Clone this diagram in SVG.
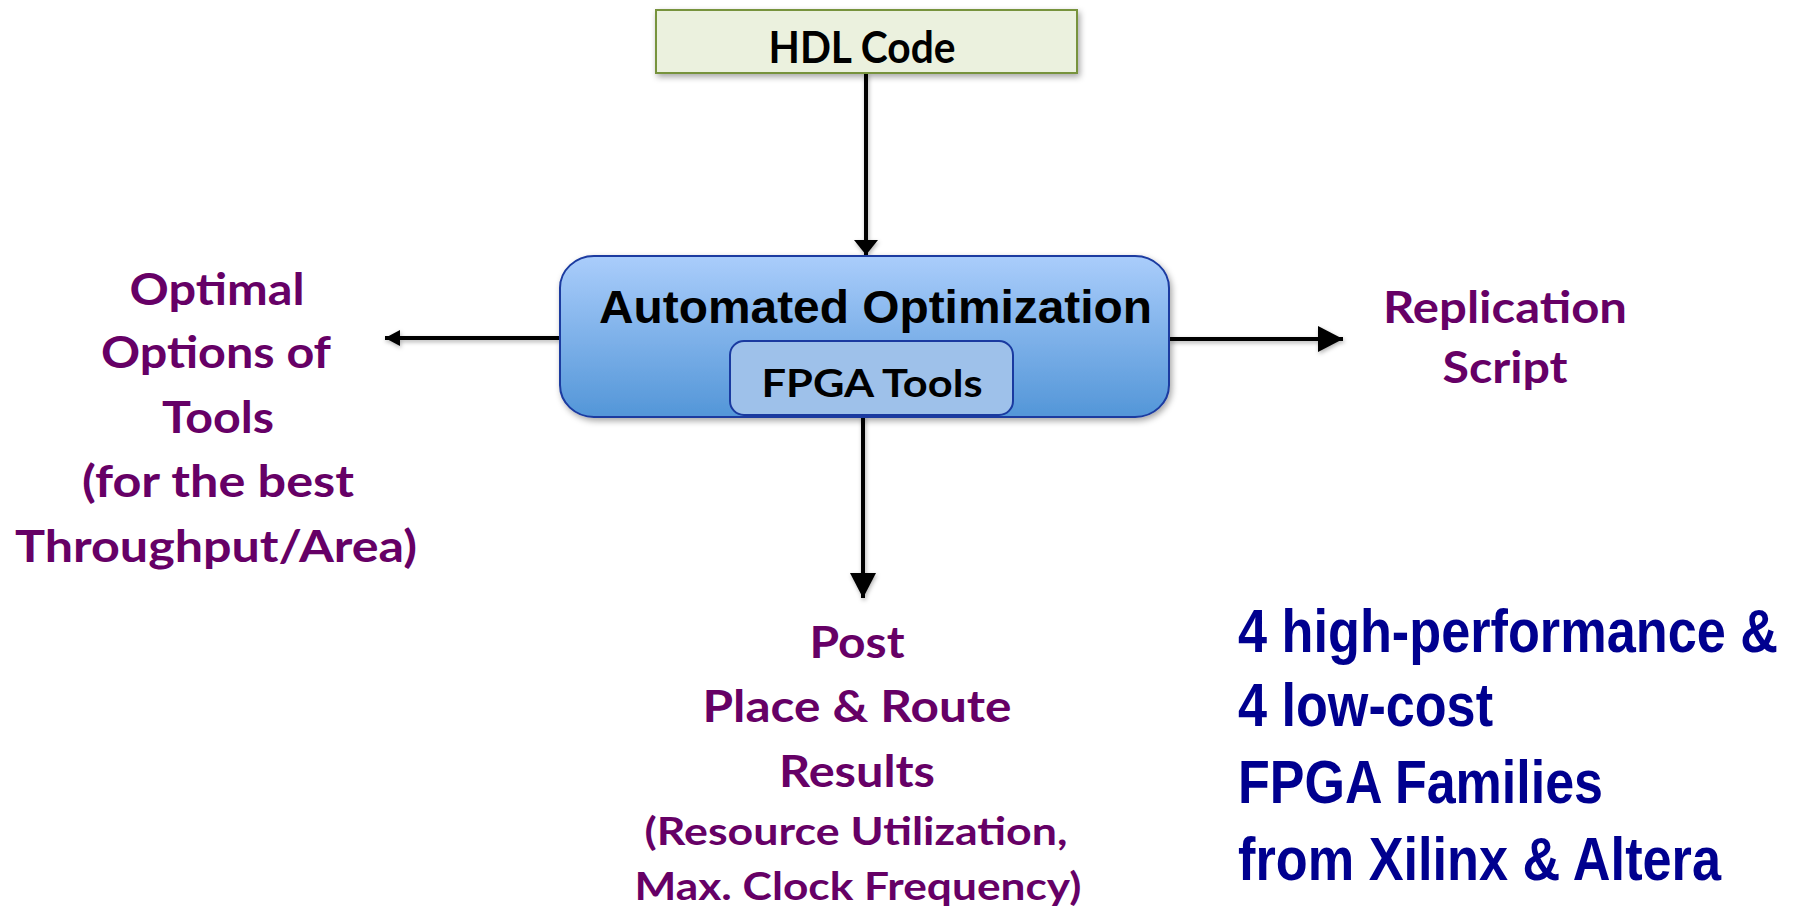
<svg xmlns="http://www.w3.org/2000/svg" width="1800" height="909" viewBox="0 0 1800 909">
<defs>
<linearGradient id="blueGrad" x1="0" y1="0" x2="0" y2="1">
<stop offset="0" stop-color="#aacdfb"/>
<stop offset="1" stop-color="#5396d8"/>
</linearGradient>
<filter id="shadow" x="-10%" y="-10%" width="130%" height="140%">
<feDropShadow dx="2" dy="3" stdDeviation="3" flood-color="#000" flood-opacity="0.35"/>
</filter>
<filter id="lshadow" x="-10%" y="-50%" width="130%" height="300%">
<feDropShadow dx="1" dy="2" stdDeviation="2" flood-color="#000" flood-opacity="0.3"/>
</filter>
<marker id="ahSmall" markerUnits="userSpaceOnUse" markerWidth="16" markerHeight="16" refX="15" refY="8" orient="auto">
<path d="M0,0 L15,8 L0,16 Z" fill="#000"/>
</marker>
<marker id="ahMid" markerUnits="userSpaceOnUse" markerWidth="16" markerHeight="24" refX="15" refY="12" orient="auto">
<path d="M0,0 L15,12 L0,24 Z" fill="#000"/>
</marker>
<marker id="ahBig" markerUnits="userSpaceOnUse" markerWidth="26" markerHeight="26" refX="25" refY="13" orient="auto">
<path d="M0,0 L25,13 L0,26 Z" fill="#000"/>
</marker>
</defs>
<style>
.purple{font-family:Lato,"Open Sans","Liberation Sans",sans-serif;font-weight:bold;fill:#660066;text-anchor:middle}
.navy{font-family:"Liberation Sans",Arial,sans-serif;font-weight:bold;fill:#00008f;font-size:52px}
.conn{stroke:#000;stroke-width:4;fill:none}
.boxlabel{font-family:Lato,"Open Sans","Liberation Sans",sans-serif;font-weight:bold;fill:#000;text-anchor:middle}
</style>

<g id="connectors" filter="url(#lshadow)">
<line class="conn" x1="866" y1="73" x2="866" y2="255" marker-end="url(#ahMid)"/>
<line class="conn" x1="560" y1="338" x2="385" y2="338" stroke-width="3.5" marker-end="url(#ahSmall)"/>
<line class="conn" x1="1169" y1="339" x2="1343" y2="339" stroke-width="5" marker-end="url(#ahBig)"/>
<line class="conn" x1="863" y1="416" x2="863" y2="598" marker-end="url(#ahBig)"/>
</g>

<g id="hdl-code">
<rect x="656" y="10" width="421" height="63" fill="#ebf1de" stroke="#77933c" stroke-width="2" filter="url(#shadow)"/>
<text class="boxlabel" x="862" y="63" font-size="44" textLength="187" lengthAdjust="spacingAndGlyphs">HDL Code</text>
</g>

<g id="automated-optimization">
<rect x="560" y="256" width="609" height="161" rx="34" ry="32" fill="url(#blueGrad)" stroke="#1a3aa0" stroke-width="2" filter="url(#shadow)"/>
<text x="599" y="323" font-family="'Liberation Sans',Arial,sans-serif" font-weight="bold" font-size="47" fill="#000" textLength="553" lengthAdjust="spacingAndGlyphs">Automated Optimization</text>
</g>

<g id="fpga-tools">
<rect x="730" y="341" width="283" height="74" rx="14" ry="14" fill="#9ec1ea" stroke="#1a3aa0" stroke-width="2"/>
<text class="boxlabel" x="872" y="397" font-size="38" textLength="221" lengthAdjust="spacingAndGlyphs">FPGA Tools</text>
</g>

<g id="optimal-options">
<text class="purple" font-size="44" x="217" y="305" textLength="175" lengthAdjust="spacingAndGlyphs">Optimal</text>
<text class="purple" font-size="44" x="216" y="368" textLength="230" lengthAdjust="spacingAndGlyphs">Options of</text>
<text class="purple" font-size="44" x="218" y="433" textLength="112" lengthAdjust="spacingAndGlyphs">Tools</text>
<text class="purple" font-size="44" x="218" y="497" textLength="272" lengthAdjust="spacingAndGlyphs">(for the best</text>
<text class="purple" font-size="44" x="216" y="562" textLength="402" lengthAdjust="spacingAndGlyphs">Throughput/Area)</text>
</g>

<g id="replication-script">
<text class="purple" font-size="44" x="1505" y="323" textLength="244" lengthAdjust="spacingAndGlyphs">Replication</text>
<text class="purple" font-size="44" x="1505" y="383" textLength="125" lengthAdjust="spacingAndGlyphs">Script</text>
</g>

<g id="post-par-results">
<text class="purple" font-size="44" x="857" y="658" textLength="95" lengthAdjust="spacingAndGlyphs">Post</text>
<text class="purple" font-size="44" x="857" y="722" textLength="309" lengthAdjust="spacingAndGlyphs">Place &amp; Route</text>
<text class="purple" font-size="44" x="857" y="787" textLength="156" lengthAdjust="spacingAndGlyphs">Results</text>
<text class="purple" font-size="39" x="856" y="845" textLength="423" lengthAdjust="spacingAndGlyphs">(Resource Utilization,</text>
<text class="purple" font-size="39" x="858" y="900" textLength="447" lengthAdjust="spacingAndGlyphs">Max. Clock Frequency)</text>
</g>

<g id="fpga-families">
<text class="navy" transform="translate(1238,652) scale(1,1.19)" x="0" y="0" textLength="540" lengthAdjust="spacingAndGlyphs">4 high-performance &amp;</text>
<text class="navy" transform="translate(1238,726) scale(1,1.19)" x="0" y="0" textLength="255" lengthAdjust="spacingAndGlyphs">4 low-cost</text>
<text class="navy" transform="translate(1238,803) scale(1,1.19)" x="0" y="0" textLength="365" lengthAdjust="spacingAndGlyphs">FPGA Families</text>
<text class="navy" transform="translate(1238,880) scale(1,1.19)" x="0" y="0" textLength="483" lengthAdjust="spacingAndGlyphs">from Xilinx &amp; Altera</text>
</g>
</svg>
